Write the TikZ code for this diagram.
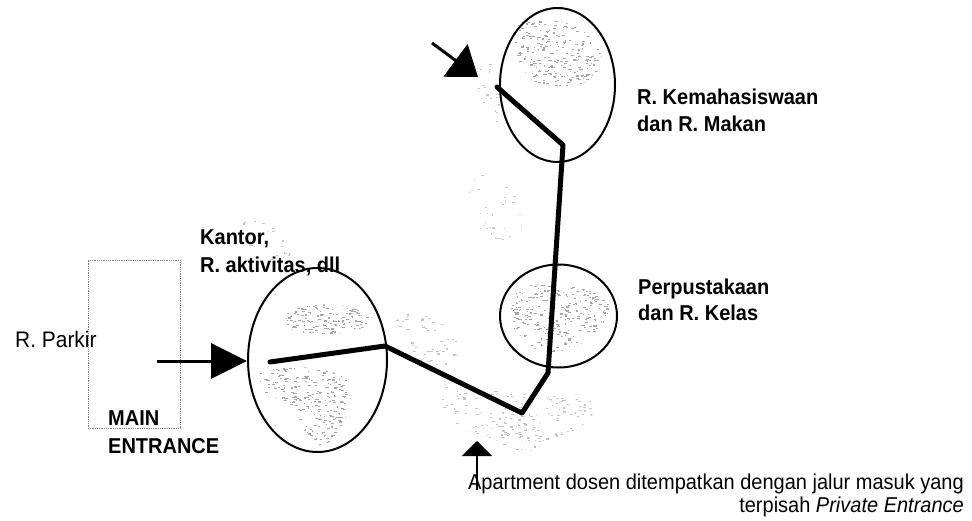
\documentclass[tikz,border=0pt]{standalone}
\usepackage{fontspec}
\setmainfont{Liberation Sans}[FakeStretch=0.93]
\usetikzlibrary{arrows.meta,shapes.geometric}

\tikzset{
  zone/.style={draw, ellipse, line width=2pt, inner sep=0pt},
  route/.style={line width=5pt, line join=round, line cap=round},
  entry/.style={line width=3pt},
  lbl/.style={inner sep=0pt, font=\fontsize{21.5}{24}\selectfont},
  blbl/.style={lbl, font=\fontsize{21.5}{24}\selectfont\bfseries},
}

% scatter short grey flecks over a box; used inside a clipping scope
\newcommand\fleckbox[6]{%
  \foreach \k in {1,...,#5}{%
    \pgfmathsetmacro\fx{#1+rnd*#3}%
    \pgfmathsetmacro\fy{#2+rnd*#4}%
    \pgfmathsetmacro\fl{0.8+rnd*2.5}%
    \fill[#6] (\fx,\fy) rectangle ++(\fl,1.1);
  }%
}

\begin{document}
\begin{tikzpicture}[x=1pt,y=-1pt]
\useasboundingbox (0,0) rectangle (972,521);
\pgfmathsetseed{4711}

% faint site texture around the zones
\begin{scope}
  \clip (395,318) .. controls (430,300) and (470,330) .. (455,362)
    .. controls (430,375) and (400,360) .. cycle;
  \fleckbox{390}{300}{70}{80}{90}{gray!45}
\end{scope}
\begin{scope}
  \clip (440,380) .. controls (480,400) and (560,385) .. (600,400)
    .. controls (590,440) and (520,455) .. (470,432) .. controls (440,420) .. cycle;
  \fleckbox{440}{380}{160}{75}{260}{gray!45}
\end{scope}
\begin{scope}
  \clip (470,170) .. controls (500,160) and (530,200) .. (520,240)
    .. controls (490,250) and (460,220) .. cycle;
  \fleckbox{460}{160}{70}{90}{70}{gray!40}
\end{scope}
\begin{scope}
  \clip (238,222) .. controls (265,212) and (295,235) .. (290,262)
    .. controls (265,265) and (245,250) .. cycle;
  \fleckbox{235}{210}{60}{60}{50}{gray!45}
\end{scope}
\begin{scope}
  \clip (478,55) .. controls (495,50) and (505,90) .. (500,125)
    .. controls (485,125) and (472,90) .. cycle;
  \fleckbox{470}{50}{40}{80}{50}{gray!45}
\end{scope}
\begin{scope}
  \clip (488,420) .. controls (515,412) and (548,422) .. (550,440)
    .. controls (530,458) and (498,458) .. cycle;
  \fleckbox{485}{410}{70}{50}{90}{gray!50}
\end{scope}

% speckled building footprints
\begin{scope}
  \clip (288,312) .. controls (320,298) and (362,305) .. (374,320)
    .. controls (360,337) and (310,337) .. (292,330) .. controls (284,322) .. cycle;
  \fleckbox{283}{298}{95}{42}{260}{gray!70}
\end{scope}
\begin{scope}
  \clip (260,372) .. controls (290,364) and (332,366) .. (347,380)
    .. controls (352,410) and (342,442) .. (318,447) .. controls (300,437) and (300,402) .. (275,397)
    .. controls (260,392) .. cycle;
  \fleckbox{258}{362}{95}{88}{420}{gray!70}
\end{scope}
\begin{scope}
  \clip (520,22) .. controls (560,10) and (602,35) .. (602,60)
    .. controls (597,87) and (560,94) .. (535,82) .. controls (514,66) and (510,35) .. cycle;
  \fleckbox{508}{10}{96}{86}{420}{gray!70}
\end{scope}
\begin{scope}
  \clip (510,290) .. controls (540,278) and (602,285) .. (610,305)
    .. controls (606,337) and (570,354) .. (545,352) .. controls (518,347) and (503,320) .. cycle;
  \fleckbox{502}{278}{110}{78}{380}{gray!70}
\end{scope}

% parking area
\node[draw=gray, densely dotted, line width=0.8pt, minimum width=92pt,
      minimum height=168pt, inner sep=0pt] (parkir) at (134,344) {};
\node[lbl, font=\fontsize{22.5}{24}\selectfont, anchor=base west] (parkirlbl) at (15,348) {R. Parkir};
\node[blbl, anchor=base west] (main1) at (108,425) {MAIN};
\node[blbl, anchor=base west] (main2) at (108,453) {ENTRANCE};

% zones
\node[zone, minimum width=139pt, minimum height=184pt] (kantor) at (317.5,360) {};
\node[zone, minimum width=115pt, minimum height=154pt] (mhs) at (557.5,85) {};
\node[zone, minimum width=117pt, minimum height=103pt] (perpus) at (558.5,316) {};

% zone labels
\node[blbl, anchor=base west] (kantor1) at (200,245) {Kantor,};
\node[blbl, anchor=base west] (kantor2) at (200,273) {R. aktivitas, dll};
\node[blbl, anchor=base west] (mhs1) at (637,105) {R. Kemahasiswaan};
\node[blbl, anchor=base west] (mhs2) at (637,132) {dan R. Makan};
\node[blbl, anchor=base west] (perpus1) at (638,295) {Perpustakaan};
\node[blbl, anchor=base west] (perpus2) at (638,321) {dan R. Kelas};

% circulation route
\coordinate (r0) at (270,362);
\coordinate (r1) at (385,346);
\coordinate (r2) at (522,413);
\coordinate (r3) at (548,373);
\coordinate (r4) at (563,145);
\coordinate (r5) at (497,87);
\draw[route] (r0) -- (r1) -- (r2) -- (r3) -- (r4) -- (r5);

% entrances
\coordinate (mainfrom) at (157,361);
\draw[entry, -{Triangle[length=36pt,width=35pt]}] (mainfrom) -- (mainfrom -| kantor.west);

\coordinate (topfrom) at (432,43);
\coordinate (topto) at (478,77);
\draw[entry, -{Triangle[length=28pt,width=40pt]}] (topfrom) -- (topto);

\node[lbl, anchor=base east] (apt1) at (964,489) {Apartment dosen ditempatkan dengan jalur masuk yang};
\node[lbl, anchor=base east] (apt2) at (964,512) {terpisah \textit{Private Entrance}};
\coordinate (aptfrom) at (477,490);
\coordinate (aptto) at (477,441);
\draw[line width=2pt, -{Triangle[length=15pt,width=30pt]}] (aptfrom) -- (aptto);
\end{tikzpicture}
\end{document}
